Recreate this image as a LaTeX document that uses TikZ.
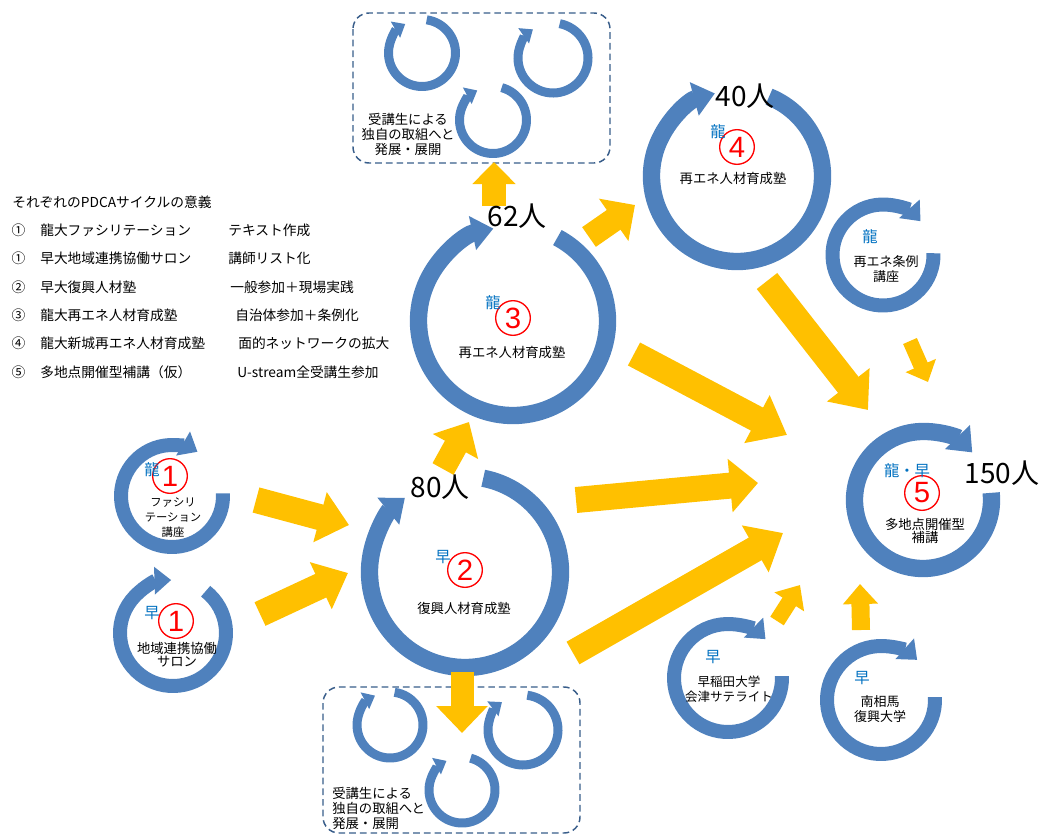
\documentclass[tikz,border=0pt]{standalone}
\usepackage{fontspec}
\setmainfont{Noto Sans CJK JP}
\newfontfamily\digitfont{Liberation Sans}
\usetikzlibrary{arrows.meta,calc}
\definecolor{cblue}{RGB}{79,129,189}
\definecolor{cyel}{RGB}{255,192,0}
\definecolor{lblue}{RGB}{0,112,192}
\definecolor{bxblue}{RGB}{56,93,138}
\tikzset{
  cycA/.style={draw=cblue, line width=10.5pt, -{Triangle[width=20pt,length=12.5pt]}},
  cycL/.style={draw=cblue, line width=13pt, -{Triangle[width=25pt,length=16pt]}},
  cycX/.style={draw=cblue, line width=6.75pt, -{Triangle[width=13.5pt,length=8.5pt]}},
  yarr/.style n args={3}{draw=cyel, line width=#1, -{Triangle[width=#2,length=#3]}},
  txt/.style={inner sep=0pt, align=center, font=\fontsize{10}{11.25}\selectfont},
  leg/.style={inner sep=0pt, font=\fontsize{10.3}{12}\selectfont},
  lbl/.style={inner sep=0pt, text=lblue, font=\fontsize{11.5}{12}\selectfont},
  num/.style={circle, draw=red, line width=1pt, text=red, minimum size=26pt, inner sep=0pt, font=\digitfont\fontsize{22}{22}\selectfont},
  cnt/.style={inner sep=0pt, font=\fontsize{21}{21}\selectfont},
  dbox/.style={draw=bxblue, line width=1.1pt, dash pattern=on 5pt off 3pt, rounded corners=12pt}
}
\begin{document}
\begin{tikzpicture}[x=0.75pt,y=0.75pt]
\useasboundingbox (0,0) rectangle (1045,-835);

% ---------- legend ----------
\node[leg, anchor=west] (lt) at (12,-202) {それぞれのPDCAサイクルの意義};
\node[leg] (l1n) at (18.5,-230) {①};
\node[leg, anchor=west] (l1a) at (40,-230) {龍大ファシリテーション};
\node[leg, anchor=west] (l1b) at (228,-230) {テキスト作成};
\node[leg] (l2n) at (18.5,-258) {①};
\node[leg, anchor=west] (l2a) at (40,-258) {早大地域連携協働サロン};
\node[leg, anchor=west] (l2b) at (228,-258) {講師リスト化};
\node[leg] (l3n) at (18.5,-287) {②};
\node[leg, anchor=west] (l3a) at (40,-287) {早大復興人材塾};
\node[leg, anchor=west] (l3b) at (230,-287) {一般参加＋現場実践};
\node[leg] (l4n) at (18.5,-315) {③};
\node[leg, anchor=west] (l4a) at (40,-315) {龍大再エネ人材育成塾};
\node[leg, anchor=west] (l4b) at (235,-315) {自治体参加＋条例化};
\node[leg] (l5n) at (18.5,-343) {④};
\node[leg, anchor=west] (l5a) at (40,-343) {龍大新城再エネ人材育成塾};
\node[leg, anchor=west] (l5b) at (238,-343) {面的ネットワークの拡大};
\node[leg] (l6n) at (18.5,-372) {⑤};
\node[leg, anchor=west] (l6a) at (40,-372) {多地点開催型補講（仮）};
\node[leg, anchor=west] (l6b) at (237,-372) {U-stream全受講生参加};

% ---------- dashed boxes ----------
\draw[dbox] (353,-13) rectangle (610,-163);
\draw[dbox] (323,-687) rectangle (580,-833);

% ---------- cycle centres ----------
\coordinate (c1a) at (172,-496);
\coordinate (c1b) at (173,-633);
\coordinate (c2) at (465,-572);
\coordinate (c3) at (513,-321);
\coordinate (c4) at (737,-176);
\coordinate (c5) at (923,-500);
\coordinate (cjr) at (883,-255);
\coordinate (cwa) at (728,-678);
\coordinate (cmi) at (881,-700);
\coordinate (tA) at (422,-53);
\coordinate (tB) at (553,-58);
\coordinate (tC) at (493,-120);
\coordinate (bA) at (390,-725);
\coordinate (bB) at (523,-730);
\coordinate (bC) at (462,-790);

% ---------- blue circular arrows ----------
\draw[cycA] ($(c1a)+(3:51)$) arc[start angle=3,end angle=-300,radius=51];
\draw[cycA] ($(c1b)+(52:53)$) arc[start angle=52,end angle=-268,radius=53];
\draw[cycL] ($(c2)+(79:95.5)$) arc[start angle=79,end angle=-231,radius=95.5];
\draw[cycL] ($(c3)+(62:94.5)$) arc[start angle=62,end angle=-258,radius=94.5];
\draw[cycL] ($(c4)+(68:85.5)$) arc[start angle=68,end angle=-255,radius=85.5];
\draw[cycL] ($(c5)+(6:68.5)$) arc[start angle=6,end angle=-316,radius=68.5];
\draw[cycA] ($(cjr)+(2:50.5)$) arc[start angle=2,end angle=-318,radius=50.5];
\draw[cycA] ($(cwa)+(2:54)$) arc[start angle=2,end angle=-314,radius=54];
\draw[cycA] ($(cmi)+(3:54)$) arc[start angle=3,end angle=-312,radius=54];
\draw[cycX] ($(tA)+(82:33.5)$) arc[start angle=82,end angle=-240,radius=33.5];
\draw[cycX] ($(tB)+(79:35)$) arc[start angle=79,end angle=-235,radius=35];
\draw[cycX] ($(tC)+(75:33.5)$) arc[start angle=75,end angle=-242,radius=33.5];
\draw[cycX] ($(bA)+(82:33)$) arc[start angle=82,end angle=-243,radius=33];
\draw[cycX] ($(bB)+(83:35)$) arc[start angle=83,end angle=-233,radius=35];
\draw[cycX] ($(bC)+(75:33)$) arc[start angle=75,end angle=-242,radius=33];

% ---------- yellow arrows ----------
\coordinate (y1s) at (256,-500);  \coordinate (y1e) at (349,-525);
\coordinate (y2s) at (260,-614);  \coordinate (y2e) at (348,-573);
\coordinate (y3s) at (443,-469);  \coordinate (y3e) at (469,-422);
\coordinate (y4s) at (494,-206);  \coordinate (y4e) at (494,-162);
\coordinate (y5s) at (589,-237);  \coordinate (y5e) at (635,-205);
\coordinate (y6s) at (634,-354);  \coordinate (y6e) at (787,-435);
\coordinate (y7s) at (767,-281);  \coordinate (y7e) at (868,-410);
\coordinate (y8s) at (910,-341);  \coordinate (y8e) at (928,-382);
\coordinate (y9s) at (576,-500);  \coordinate (y9e) at (758,-483);
\coordinate (y10s) at (573,-653); \coordinate (y10e) at (783,-533);
\coordinate (y11s) at (777,-621); \coordinate (y11e) at (800,-585);
\coordinate (y12s) at (861,-630); \coordinate (y12e) at (860,-584);
\coordinate (y13s) at (462,-672); \coordinate (y13e) at (462,-733);
\draw[yarr={19.5pt}{37.5pt}{22.5pt}] (y1s) -- (y1e);
\draw[yarr={19.5pt}{37.5pt}{22.5pt}] (y2s) -- (y2e);
\draw[yarr={18pt}{37.5pt}{21pt}] (y3s) -- (y3e);
\draw[yarr={18pt}{31.5pt}{16.5pt}] (y4s) -- (y4e);
\draw[yarr={18pt}{37.5pt}{19.5pt}] (y5s) -- (y5e);
\draw[yarr={19.5pt}{39pt}{25.5pt}] (y6s) -- (y6e);
\draw[yarr={19.5pt}{39pt}{24pt}] (y7s) -- (y7e);
\draw[yarr={11.25pt}{24pt}{13.5pt}] (y8s) -- (y8e);
\draw[yarr={19.5pt}{39pt}{21pt}] (y9s) -- (y9e);
\draw[yarr={19.5pt}{39pt}{24pt}] (y10s) -- (y10e);
\draw[yarr={12pt}{25.5pt}{15pt}] (y11s) -- (y11e);
\draw[yarr={13.5pt}{25.5pt}{15pt}] (y12s) -- (y12e);
\draw[yarr={17.25pt}{37.5pt}{20.25pt}] (y13s) -- (y13e);

% ---------- box texts ----------
\node[txt] (tbt) at (408,-134) {受講生による\\独自の取組へと\\発展・展開};
\node[txt, align=left, anchor=west] (bbt) at (332,-808) {受講生による\\独自の取組へと\\発展・展開};

% ---------- cycle 1a ----------
\node[num] (n1a) at (170,-476) {1};
\node[lbl] (k1a) at (152,-470) {龍};
\node[txt, font=\fontsize{8.5}{11.25}\selectfont] (t1a) at (173,-518) {ファシリ\\テーション\\講座};

% ---------- cycle 1b ----------
\node[num] (n1b) at (176,-621) {1};
\node[lbl] (k1b) at (152,-613) {早};
\node[txt, font=\fontsize{10}{9.75}\selectfont] (t1b) at (177,-655) {地域連携協働\\サロン};

% ---------- cycle 2 ----------
\node[num] (n2) at (465,-570) {2};
\node[lbl] (k2) at (443,-557) {早};
\node[txt] (t2) at (464,-608) {復興人材育成塾};
\node[cnt] (p2) at (440,-487) {80人};

% ---------- cycle 3 ----------
\node[num] (n3) at (513,-318) {3};
\node[lbl] (k3) at (493,-303) {龍};
\node[txt] (t3) at (512,-352) {再エネ人材育成塾};
\node[cnt] (p3) at (517,-216) {62人};

% ---------- cycle 4 ----------
\node[num] (n4) at (737,-147) {4};
\node[lbl] (k4) at (718,-132) {龍};
\node[txt] (t4) at (733,-178) {再エネ人材育成塾};
\node[cnt] (p4) at (745,-96) {40人};

% ---------- cycle 5 ----------
\node[num] (n5) at (922,-493) {5};
\node[lbl] (k5) at (907,-471) {龍・早};
\node[txt, font=\fontsize{10}{8.8}\selectfont] (t5) at (925,-531) {多地点開催型\\補講};
\node[cnt] (p5) at (1002,-473) {150人};

% ---------- small cycles ----------
\node[lbl] (kjr) at (870,-237) {龍};
\node[txt, font=\fontsize{9.75}{11.25}\selectfont] (tjr) at (886,-269.5) {再エネ条例\\講座};
\node[lbl] (kwa) at (713,-657) {早};
\node[txt, font=\fontsize{9.4}{11.25}\selectfont] (twa) at (729,-689.5) {早稲田大学\\会津サテライト};
\node[lbl] (kmi) at (862,-678) {早};
\node[txt, font=\fontsize{9.75}{11.25}\selectfont] (tmi) at (880,-709.5) {南相馬\\復興大学};
\end{tikzpicture}
\end{document}
